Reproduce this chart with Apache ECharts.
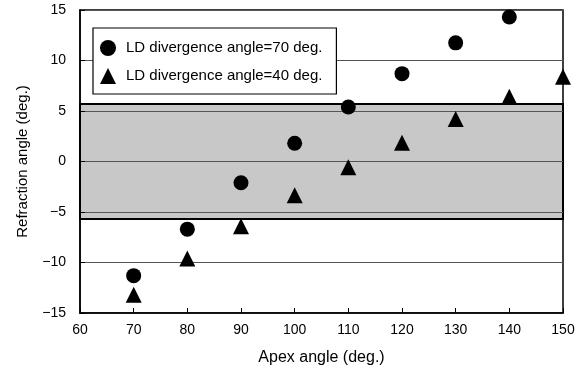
<!DOCTYPE html>
<html><head><meta charset="utf-8">
<script src="https://cdn.jsdelivr.net/npm/echarts@6/dist/echarts.min.js"></script>
<style>html,body{margin:0;padding:0;background:#fff}#c{width:578px;height:374px}</style>
</head><body><div id="c"></div>
<script>
var apexAngles70 = [70, 80, 90, 100, 110, 120, 130, 140];
var refraction70 = [-11.3, -6.7, -2.1, 1.8, 5.4, 8.7, 11.75, 14.3];
var apexAngles40 = [70, 80, 90, 100, 110, 120, 130, 140, 150];
var refraction40 = [-13.2, -9.6, -6.4, -3.35, -0.57, 1.85, 4.2, 6.4, 8.4];
var bandLimits = [-5.7, 5.7];
var seriesNames = ['LD divergence angle=70 deg.', 'LD divergence angle=40 deg.'];
var xTicks = [60, 70, 80, 90, 100, 110, 120, 130, 140, 150];
var yTicks = [-15, -10, -5, 0, 5, 10, 15];

function pairs(xs, ys) { return xs.map(function (x, i) { return [x, ys[i]]; }); }
var font = 'Liberation Sans, Arial, sans-serif';
var chart = echarts.init(document.getElementById('c'));
chart.setOption({
  animation: false,
  grid: { left: 80, top: 10, right: 15, bottom: 61, show: true, borderColor: '#000', borderWidth: 1.5, backgroundColor: '#fff' },
  legend: {
    data: [{ name: seriesNames[0], icon: 'circle' }, { name: seriesNames[1], icon: 'triangle' }],
    orient: 'vertical', left: 93, top: 28,
    backgroundColor: '#fff', borderColor: '#000', borderWidth: 1.2, borderRadius: 0,
    padding: [12, 14, 10, 7], itemGap: 12, itemWidth: 16, itemHeight: 16,
    formatter: function (n) { return '{t|' + n + '}'; },
    textStyle: { fontFamily: font, fontSize: 15, color: '#000',
      rich: { t: { fontFamily: font, fontSize: 15, color: '#000', padding: [0, 0, 0, 5] } } },
    z: 10,
    itemStyle: { opacity: 1 }
  },
  xAxis: {
    type: 'value', min: xTicks[0], max: xTicks[xTicks.length - 1], interval: 10, z: 2,
    name: 'Apex angle (deg.)', nameLocation: 'middle', nameGap: 37,
    nameTextStyle: { fontFamily: font, fontSize: 16, color: '#000' },
    axisLine: { onZero: false, lineStyle: { color: '#000', width: 1.5 } },
    axisTick: { inside: true, length: 5, lineStyle: { color: '#000' } },
    axisLabel: { fontFamily: font, fontSize: 14, color: '#000', margin: 10 },
    splitLine: { show: false }
  },
  yAxis: {
    type: 'value', min: yTicks[0], max: yTicks[yTicks.length - 1], interval: 5, z: 2,
    name: 'Refraction angle (deg.)', nameLocation: 'middle', nameGap: 50,
    nameTextStyle: { fontFamily: font, fontSize: 15, color: '#000' },
    axisLine: { onZero: false, lineStyle: { color: '#000', width: 1.5 } },
    axisTick: { inside: true, length: 5, lineStyle: { color: '#000' } },
    axisLabel: { fontFamily: font, fontSize: 14, color: '#000', margin: 14,
      formatter: function (v) { return String(v).replace('-', '\u2212'); } },
    splitLine: { show: true, lineStyle: { color: '#555', width: 1 } }
  },
  series: [
    {
      type: 'line', data: [], z: 1, silent: true,
      markArea: {
        silent: true,
        itemStyle: { color: '#c8c8c8', borderColor: '#000', borderWidth: 2, opacity: 1 },
        data: [[{ yAxis: bandLimits[0] }, { yAxis: bandLimits[1] }]]
      }
    },
    {
      name: seriesNames[0], type: 'scatter', symbol: 'circle', symbolSize: 15, z: 3,
      itemStyle: { color: '#000', opacity: 1 }, data: pairs(apexAngles70, refraction70)
    },
    {
      name: seriesNames[1], type: 'scatter', symbol: 'triangle', symbolSize: 16, z: 3,
      itemStyle: { color: '#000', opacity: 1 }, data: pairs(apexAngles40, refraction40)
    }
  ]
});
</script></body></html>
